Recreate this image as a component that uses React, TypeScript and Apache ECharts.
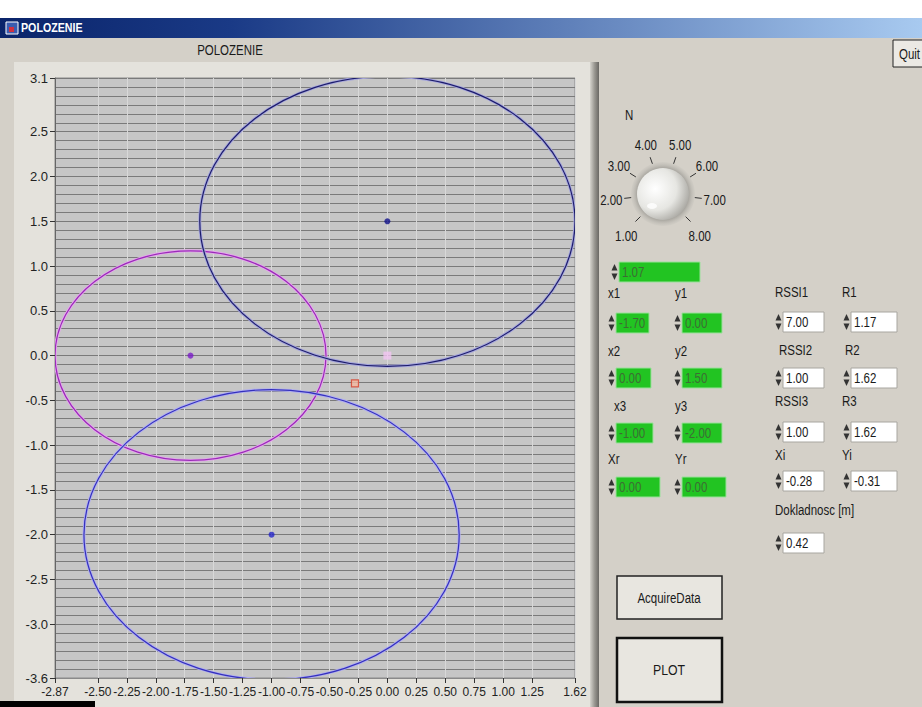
import React, { useEffect, useRef } from 'react';
import * as echarts from 'echarts';

// ---- chart data ----
const circleX = [-1.7, 0.0, -1.0];
const circleY = [0.0, 1.5, -2.0];
const circleR = [1.17, 1.62, 1.62];
const refPoint = [0.0, 0.0];
const estPoint = [-0.28, -0.31];
const xTickValues = [-2.87, -2.5, -2.25, -2.0, -1.75, -1.5, -1.25, -1.0, -0.75, -0.5, -0.25, 0.0, 0.25, 0.5, 0.75, 1.0, 1.25, 1.62];
const yTickValues = [3.1, 2.5, 2.0, 1.5, 1.0, 0.5, 0.0, -0.5, -1.0, -1.5, -2.0, -2.5, -3.0, -3.6];
const xMin = -2.87;
const xMax = 1.62;
const yMin = -3.6;
const yMax = 3.1;
const yGridStep = 0.1;

// ---- panel data ----
const knobLabels = ['1.00', '2.00', '3.00', '4.00', '5.00', '6.00', '7.00', '8.00'];
const knobValue = '1.07';
const nodeXLabels = ['x1', 'x2', 'x3', 'Xr'];
const nodeXValues = ['-1.70', '0.00', '-1.00', '0.00'];
const nodeYLabels = ['y1', 'y2', 'y3', 'Yr'];
const nodeYValues = ['0.00', '1.50', '-2.00', '0.00'];
const rssiLabels = ['RSSI1', 'RSSI2', 'RSSI3', 'Xi'];
const rssiValues = ['7.00', '1.00', '1.00', '-0.28'];
const rLabels = ['R1', 'R2', 'R3', 'Yi'];
const rValues = ['1.17', '1.62', '1.62', '-0.31'];
const accuracyLabel = 'Dokladnosc [m]';
const accuracyValue = '0.42';

// ---- styles ----
const FAM = "'Liberation Sans',Arial,sans-serif";
const f = (size: number, weight = 'normal') => `${weight} ${size}px ${FAM}`;
const NARROW = 0.82;
const circleStroke = ['#9a2cb8', '#1c1c6a', '#3430bc'];
const circleHalo = ['#e6a6ee', '#a4a4dc', '#b0aef0'];
const centerColors = ['#7a1cc8', '#10108a', '#2424c8'];
const GREEN = '#22c422';

function txt(x: number, y: number, text: string, size: number, opts: any = {}) {
  return {
    type: 'text',
    x,
    y,
    scaleX: NARROW,
    style: {
      text,
      font: f(size, opts.weight || 'normal'),
      fill: opts.fill || '#1a1a1a',
      align: opts.align || 'left',
      verticalAlign: 'middle',
    },
  };
}

function spinner(x: number, y: number, h: number) {
  const m = y + h / 2;
  return [
    { type: 'rect', shape: { x, y, width: 7, height: h }, style: { fill: '#d4d0c8' } },
    { type: 'polygon', shape: { points: [[x + 0.5, m - 1.5], [x + 6.5, m - 1.5], [x + 3.5, y + 2]] }, style: { fill: '#333' } },
    { type: 'polygon', shape: { points: [[x + 0.5, m + 1.5], [x + 6.5, m + 1.5], [x + 3.5, y + h - 2]] }, style: { fill: '#333' } },
  ];
}

function numBox(x: number, y: number, w: number, h: number, text: string, green: boolean) {
  return [
    ...spinner(x - 8, y, h),
    {
      type: 'rect',
      shape: { x, y, width: w, height: h },
      style: { fill: green ? GREEN : '#ffffff', stroke: green ? '#9ae09a' : '#a8a6a0', lineWidth: 1 },
    },
    txt(x + 3, y + h / 2 + 0.5, text, 14, { fill: green ? '#3c6e34' : '#1a1a1a' }),
  ];
}

function buildGraphics() {
  const els: any[] = [];
  els.push({ type: 'rect', z: -20, shape: { x: 0, y: 0, width: 922, height: 18 }, style: { fill: '#ffffff' } });
  els.push({
    type: 'rect',
    z: -20,
    shape: { x: 0, y: 18, width: 922, height: 20 },
    style: {
      fill: new echarts.graphic.LinearGradient(0, 0, 1, 0, [
        { offset: 0, color: '#0a246a' },
        { offset: 0.25, color: '#1a3a86' },
        { offset: 1, color: '#a8caf0' },
      ]),
    },
  });
  els.push({ type: 'rect', shape: { x: 6, y: 22, width: 12, height: 12 }, style: { fill: '#3a5cb0', stroke: '#ffffff', lineWidth: 1 } });
  els.push({ type: 'rect', shape: { x: 9, y: 27, width: 5, height: 5 }, style: { fill: '#d03040' } });
  els.push(txt(21, 28, 'POLOZENIE', 13, { weight: 'bold', fill: '#ffffff' }));
  els.push({ type: 'rect', shape: { x: 893, y: 40, width: 40, height: 27 }, style: { fill: '#ebe9e4', stroke: '#222', lineWidth: 1 } });
  els.push(txt(899, 54, 'Quit', 14));

  // chart frame
  els.push({ type: 'rect', z: -20, shape: { x: 14, y: 62, width: 580, height: 645 }, style: { fill: '#e4e2dc' } });
  els.push({
    type: 'rect',
    z: -20,
    shape: { x: 590, y: 62, width: 9, height: 645 },
    style: {
      fill: new echarts.graphic.LinearGradient(0, 0, 1, 0, [
        { offset: 0, color: '#d6d4ce' },
        { offset: 0.5, color: '#9a9892' },
        { offset: 1, color: '#6a6864' },
      ]),
    },
  });
  els.push(txt(230, 50, 'POLOZENIE', 14, { align: 'center' }));
  els.push({ type: 'rect', shape: { x: 0, y: 701, width: 95, height: 6 }, style: { fill: '#000000' } });

  // knob
  const kcx = 663;
  const kcy = 194;
  els.push(txt(625, 115, 'N', 14));
  els.push({
    type: 'circle',
    shape: { cx: kcx, cy: kcy, r: 32 },
    style: {
      fill: new echarts.graphic.RadialGradient(0.5, 0.5, 0.5, [
        { offset: 0.72, color: '#8a8882' },
        { offset: 1, color: 'rgba(190,188,182,0.2)' },
      ]),
    },
  });
  els.push({
    type: 'circle',
    shape: { cx: kcx, cy: kcy, r: 26 },
    style: {
      fill: new echarts.graphic.RadialGradient(0.35, 0.4, 0.75, [
        { offset: 0, color: '#ffffff' },
        { offset: 0.55, color: '#e6e6e2' },
        { offset: 1, color: '#9c9a94' },
      ]),
    },
  });
  els.push({ type: 'ellipse', shape: { cx: kcx - 11, cy: kcy + 12, rx: 5, ry: 3 }, style: { fill: 'rgba(255,255,255,0.8)' } });
  knobLabels.forEach((t, i) => {
    const a = ((225 - (270 / 7) * i) * Math.PI) / 180;
    const c = Math.cos(a);
    const s = Math.sin(a);
    els.push({
      type: 'line',
      shape: { x1: kcx + 32 * c, y1: kcy - 32 * s, x2: kcx + 39 * c, y2: kcy - 39 * s },
      style: { stroke: '#333', lineWidth: 1 },
    });
    els.push(txt(kcx + 52 * c, kcy - 52 * s + (s < -0.5 ? 5 : 0), t, 14, { align: 'center' }));
  });
  els.push(...numBox(619, 262, 81, 20, knobValue, true));

  // left block of green indicators
  const lLabelY = [293, 351, 406, 459];
  const lBoxY = [313, 368, 423, 477];
  const lW1 = [33, 35, 37, 44];
  const lW2 = [40, 40, 40, 44];
  for (let i = 0; i < 4; i++) {
    els.push(txt(i === 2 ? 614 : 608, lLabelY[i], nodeXLabels[i], 14));
    els.push(txt(675, lLabelY[i], nodeYLabels[i], 14));
    els.push(...numBox(616, lBoxY[i], lW1[i], 20, nodeXValues[i], true));
    els.push(...numBox(682, lBoxY[i], lW2[i], 20, nodeYValues[i], true));
  }
  // right block of white controls
  const rLabelY = [292, 350, 401, 455];
  const rBoxY = [312, 368, 422, 471];
  for (let i = 0; i < 4; i++) {
    els.push(txt(i === 1 ? 779 : 775, rLabelY[i], rssiLabels[i], 14));
    els.push(txt(i === 1 ? 845 : 842, rLabelY[i], rLabels[i], 14));
    els.push(...numBox(783, rBoxY[i], 41, 20, rssiValues[i], false));
    els.push(...numBox(851, rBoxY[i], 46, 20, rValues[i], false));
  }
  els.push(txt(775, 510, accuracyLabel, 14));
  els.push(...numBox(783, 533, 41, 20, accuracyValue, false));

  // buttons
  els.push({ type: 'rect', shape: { x: 617, y: 576, width: 105, height: 43 }, style: { fill: '#e8e6e0', stroke: '#222', lineWidth: 1.5 } });
  els.push(txt(669, 598, 'AcquireData', 14, { align: 'center' }));
  els.push({ type: 'rect', shape: { x: 617, y: 638, width: 105, height: 64 }, style: { fill: '#e8e6e0', stroke: '#111', lineWidth: 2.5 } });
  els.push(txt(669, 670, 'PLOT', 15, { align: 'center' }));
  return els;
}

export default function App() {
  const ref = useRef<HTMLDivElement>(null);
  useEffect(() => {
    if (!ref.current) return;
    const chart = echarts.init(ref.current, null, { renderer: 'svg' });
    const circleData = circleX.map((x, i) => [x, circleY[i], circleR[i]]);
    const centerData = circleX.map((x, i) => ({ value: [x, circleY[i]], itemStyle: { color: centerColors[i] } }));
    const axisLabelStyle = { fontFamily: FAM, fontSize: 13, color: '#222' };
    chart.setOption({
      animation: false,
      backgroundColor: 'transparent',
      grid: {
        left: 55,
        top: 78,
        width: 520,
        height: 600,
        show: true,
        backgroundColor: '#c6c6c6',
        borderColor: '#8a8a8a',
        borderWidth: 1,
      },
      xAxis: {
        type: 'value',
        min: xMin,
        max: xMax,
        axisLine: { show: true, onZero: false, lineStyle: { color: '#8a8a8a' } },
        axisTick: { show: true, length: 5, customValues: xTickValues, lineStyle: { color: '#333' } },
        axisLabel: {
          ...axisLabelStyle,
          fontSize: 12,
          margin: 8,
          customValues: xTickValues,
          formatter: (v: number) => v.toFixed(2),
        },
        splitLine: { show: true, lineStyle: { color: '#d8d8d8', width: 1 } },
      },
      yAxis: [
        {
          type: 'value',
          min: yMin,
          max: yMax,
          interval: yGridStep,
          axisLine: { show: false },
          axisTick: { show: false },
          axisLabel: { show: false },
          splitLine: { show: true, lineStyle: { color: '#7a7a7a', width: 1 } },
        },
        {
          type: 'value',
          min: yMin,
          max: yMax,
          position: 'left',
          axisLine: { show: true, onZero: false, lineStyle: { color: '#666' } },
          axisTick: { show: true, length: 5, customValues: yTickValues, lineStyle: { color: '#333' } },
          axisLabel: {
            ...axisLabelStyle,
            margin: 7,
            customValues: yTickValues,
            formatter: (v: number) => v.toFixed(1),
          },
          splitLine: { show: false },
        },
      ],
      graphic: { elements: buildGraphics() },
      series: [
        {
          type: 'custom',
          clip: true,
          yAxisIndex: 0,
          data: circleData,
          renderItem: (params: any, api: any) => {
            const c = api.coord([api.value(0), api.value(1)]);
            const r = api.value(2);
            const s = api.size([r, r]);
            const i = params.dataIndex;
            return {
              type: 'group',
              children: [
                {
                  type: 'ellipse',
                  shape: { cx: c[0], cy: c[1], rx: s[0], ry: s[1] },
                  style: { fill: 'none', stroke: circleHalo[i], lineWidth: 3 },
                },
                {
                  type: 'ellipse',
                  shape: { cx: c[0], cy: c[1], rx: s[0], ry: s[1] },
                  style: { fill: 'none', stroke: circleStroke[i], lineWidth: 1.2 },
                },
              ],
            };
          },
        },
        {
          type: 'scatter',
          yAxisIndex: 0,
          symbol: 'circle',
          symbolSize: 6,
          data: centerData,
        },
        {
          type: 'scatter',
          yAxisIndex: 0,
          symbol: 'rect',
          symbolSize: 8,
          itemStyle: { color: '#f2c4f2' },
          data: [refPoint],
        },
        {
          type: 'scatter',
          yAxisIndex: 0,
          symbol: 'rect',
          symbolSize: 7,
          itemStyle: { color: '#f4b8a0', borderColor: '#d4402a', borderWidth: 1.2 },
          data: [estPoint],
        },
      ],
    });
    return () => chart.dispose();
  }, []);
  return (
    <div
      ref={ref}
      style={{ position: 'fixed', left: 0, top: 0, width: 922, height: 707, background: '#d4d0c8' }}
    />
  );
}
